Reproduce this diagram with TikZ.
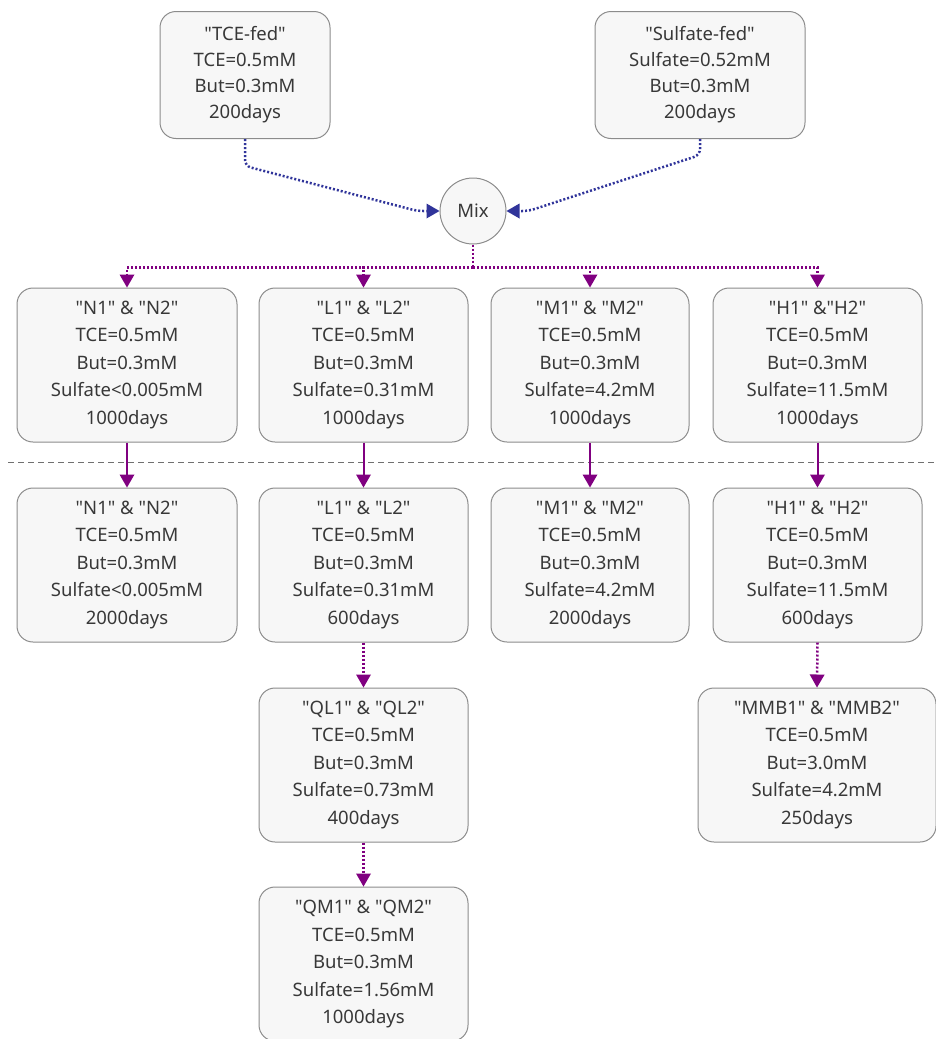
\documentclass[tikz,border=0pt]{standalone}
\usepackage{fontspec}
\setmainfont{Noto Sans}[Ligatures=TeXOff]
\usetikzlibrary{arrows.meta}
\definecolor{boxfill}{HTML}{F7F7F7}
\definecolor{boxline}{HTML}{8C8C8C}
\definecolor{txt}{HTML}{383838}
\definecolor{plum}{HTML}{800080}
\definecolor{navy}{HTML}{30349A}
\definecolor{sepline}{HTML}{707070}
\begin{document}
\begin{tikzpicture}[x=1pt,y=-1pt,
  box/.style={draw=boxline, fill=boxfill, rounded corners=16pt, line width=1pt,
    align=center, text=txt, inner sep=0pt, font=\fontsize{18.5}{27.5}\selectfont},
  feed/.style={box, minimum width=170pt, minimum height=127pt, font=\fontsize{18.5}{26}\selectfont},
  stage/.style={box, minimum height=154pt},
  mixnode/.style={circle, draw=boxline, fill=boxfill, line width=1pt, minimum size=66pt,
    inner sep=0pt, text=txt, font=\fontsize{18.5}{22}\selectfont},
  blueflow/.style={draw=navy, line width=2.5pt, dash pattern=on 2pt off 2pt,
    -{Triangle[width=15pt,length=13pt,line width=0pt]}, rounded corners=6pt},
  dotflow/.style={draw=plum, line width=2.5pt, dash pattern=on 2pt off 2pt,
    -{Triangle[width=15pt,length=13pt,line width=0pt]}},
  flow/.style={draw=plum, line width=2pt, -{Triangle[width=15pt,length=13pt,line width=0pt]}}
]
\useasboundingbox (0,0) rectangle (936,1039);

% feed reactors and mixing
\node[feed] (tce) at (245,75) {"TCE-fed"\\TCE=0.5mM\\But=0.3mM\\200days};
\node[feed, minimum width=210pt] (sulf) at (700,75) {"Sulfate-fed"\\Sulfate=0.52mM\\But=0.3mM\\200days};
\node[mixnode] (mix) at (473,211) {Mix};

\draw[blueflow] (tce.south) -- ++(0,27) -- ([xshift=-22pt]mix.west) -- (mix.west);
\draw[blueflow] (sulf.south) -- ++(0,16) -- ([xshift=22pt]mix.east) -- (mix.east);

% first stage, 1000 days
\node[stage, minimum width=220pt] (n1) at (127,365) {"N1" \& "N2"\\TCE=0.5mM\\But=0.3mM\\Sulfate<0.005mM\\1000days};
\node[stage, minimum width=209pt] (l1) at (363.5,365) {"L1" \& "L2"\\TCE=0.5mM\\But=0.3mM\\Sulfate=0.31mM\\1000days};
\node[stage, minimum width=198pt] (m1) at (590,365) {"M1" \& "M2"\\TCE=0.5mM\\But=0.3mM\\Sulfate=4.2mM\\1000days};
\node[stage, minimum width=209pt] (h1) at (817.5,365) {"H1" \&"H2"\\TCE=0.5mM\\But=0.3mM\\Sulfate=11.5mM\\1000days};

\draw[draw=plum, line width=2.5pt, dash pattern=on 2pt off 2pt] (mix.south) -- ++(0,23) coordinate (split);
\foreach \t in {n1,l1,m1,h1}
  \draw[dotflow] (split) -| (\t.north);

% stage separator
\coordinate (sepL) at (8,462);
\coordinate (sepR) at (936,462);
\draw[sepline, line width=1pt, dash pattern=on 6pt off 4pt] (sepL) -- (sepR);

% second stage
\node[stage, minimum width=220pt] (n2) at (127,565) {"N1" \& "N2"\\TCE=0.5mM\\But=0.3mM\\Sulfate<0.005mM\\2000days};
\node[stage, minimum width=209pt] (l2) at (363.5,565) {"L1" \& "L2"\\TCE=0.5mM\\But=0.3mM\\Sulfate=0.31mM\\600days};
\node[stage, minimum width=198pt] (m2) at (590,565) {"M1" \& "M2"\\TCE=0.5mM\\But=0.3mM\\Sulfate=4.2mM\\2000days};
\node[stage, minimum width=209pt] (h2) at (817.5,565) {"H1" \& "H2"\\TCE=0.5mM\\But=0.3mM\\Sulfate=11.5mM\\600days};

\foreach \a/\b in {n1/n2,l1/l2,m1/m2,h1/h2}
  \draw[flow] (\a.south) -- (\b.north);

% derived cultures
\node[stage, minimum width=209pt] (ql) at (363.5,765) {"QL1" \& "QL2"\\TCE=0.5mM\\But=0.3mM\\Sulfate=0.73mM\\400days};
\node[stage, minimum width=238pt] (mmb) at (817,765) {"MMB1" \& "MMB2"\\TCE=0.5mM\\But=3.0mM\\Sulfate=4.2mM\\250days};
\node[stage, minimum width=209pt] (qm) at (363.5,964) {"QM1" \& "QM2"\\TCE=0.5mM\\But=0.3mM\\Sulfate=1.56mM\\1000days};

\draw[dotflow] (l2.south) -- (ql.north);
\draw[dotflow] (ql.south) -- (qm.north);
\draw[dotflow] (h2.south) -- (mmb.north);
\end{tikzpicture}
\end{document}
